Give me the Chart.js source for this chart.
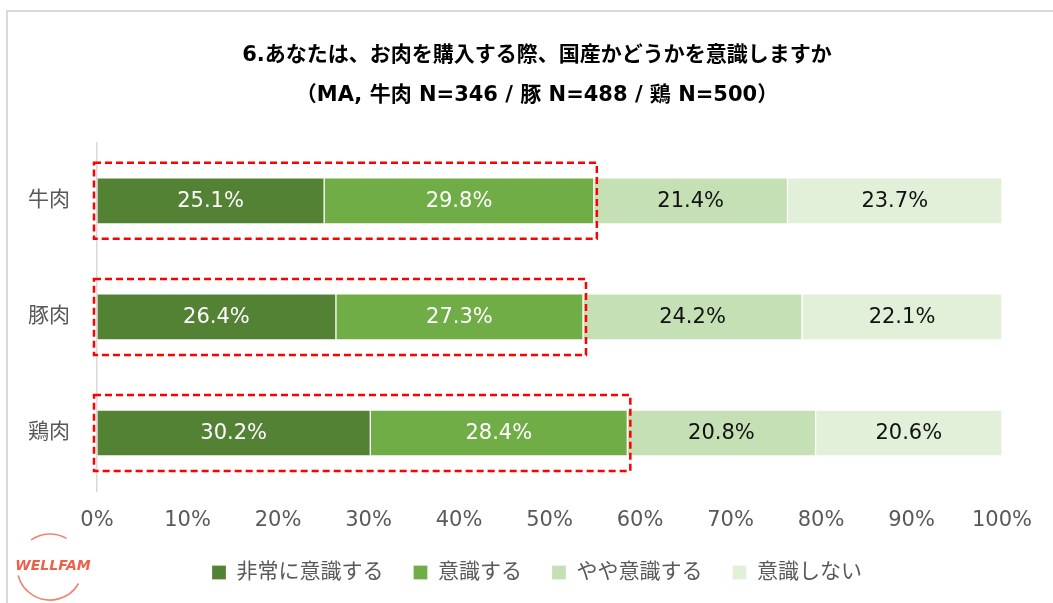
<!DOCTYPE html>
<html>
<head>
<meta charset="utf-8">
<script src="https://cdn.jsdelivr.net/npm/chart.js@4/dist/chart.umd.min.js"></script>
<style>
  html, body { margin: 0; padding: 0; background: #fff; }
  #wrap { width: 1053px; height: 603px; }
</style>
</head>
<body>
<div id="wrap"><canvas id="meatChart"></canvas></div>
<script>
const categories = ['牛肉', '豚肉', '鶏肉'];
const seriesNames = ['非常に意識する', '意識する', 'やや意識する', '意識しない'];
const veryConscious = [25.1, 26.4, 30.2];
const conscious = [29.8, 27.3, 28.4];
const somewhat = [21.4, 24.2, 20.8];
const notConscious = [23.7, 22.1, 20.6];
const xTicks = [0, 10, 20, 30, 40, 50, 60, 70, 80, 90, 100];
const titleLines = ['6.あなたは、お肉を購入する際、国産かどうかを意識しますか', '（MA, 牛肉 N=346 / 豚 N=488 / 鶏 N=500）'];

const colors = ['#548235', '#70AD47', '#C5E0B4', '#E2F0D9'];
const labelColors = ['#ffffff', '#ffffff', '#111111', '#111111'];
const FONT = '"DejaVu Sans", "Noto Sans CJK JP", sans-serif';

// outer frame + logo
const framePlugin = {
  id: 'frame',
  beforeDraw(chart) {
    const ctx = chart.ctx;
    ctx.save();
    ctx.strokeStyle = '#d9d9d9';
    ctx.lineWidth = 2;
    ctx.strokeRect(7, 11, 1060, 610);
    ctx.restore();
  },
  afterDraw(chart) {
    const ctx = chart.ctx;
    const deg = Math.PI / 180;
    ctx.save();
    ctx.strokeStyle = 'rgba(235, 90, 60, 0.75)';
    ctx.lineWidth = 1.6;
    ctx.beginPath();
    ctx.arc(50, 567, 33, 235 * deg, 300 * deg);
    ctx.stroke();
    ctx.beginPath();
    ctx.arc(50, 567, 33, 30 * deg, 165 * deg);
    ctx.stroke();
    ctx.fillStyle = 'rgba(235, 80, 55, 0.9)';
    ctx.font = 'italic bold 14px ' + FONT;
    ctx.textAlign = 'center';
    ctx.textBaseline = 'middle';
    ctx.fillText('WELLFAM', 53, 566);
    ctx.restore();
  }
};

// values in the middle of each segment
const valueLabels = {
  id: 'valueLabels',
  afterDatasetsDraw(chart) {
    const ctx = chart.ctx;
    ctx.save();
    ctx.font = '21px ' + FONT;
    ctx.textAlign = 'center';
    ctx.textBaseline = 'middle';
    chart.data.datasets.forEach((ds, di) => {
      chart.getDatasetMeta(di).data.forEach((bar, i) => {
        ctx.fillStyle = labelColors[di];
        ctx.fillText(ds.data[i].toFixed(1) + '%', (bar.x + bar.base) / 2, bar.y + 1);
      });
    });
    ctx.restore();
  }
};

// red dashed boxes round the first two segments
const dashBoxes = {
  id: 'dashBoxes',
  afterDatasetsDraw(chart) {
    const ctx = chart.ctx;
    const x0 = chart.scales.x.getPixelForValue(0);
    ctx.save();
    ctx.strokeStyle = '#FF0000';
    ctx.lineWidth = 2.5;
    ctx.setLineDash([7, 4]);
    chart.getDatasetMeta(1).data.forEach(bar => {
      const h = bar.height;
      ctx.strokeRect(x0 - 3, bar.y - h / 2 - 15, bar.x + 3 - (x0 - 3), h + 30);
    });
    ctx.restore();
  }
};

const datasets = [veryConscious, conscious, somewhat, notConscious].map((d, i) => ({
  label: seriesNames[i],
  data: d,
  backgroundColor: colors[i],
  borderColor: 'rgba(255,255,255,0.25)',
  borderWidth: 1,
  borderSkipped: false,
  barThickness: 46
}));

new Chart(document.getElementById('meatChart'), {
  type: 'bar',
  data: { labels: categories, datasets: datasets },
  plugins: [framePlugin, valueLabels, dashBoxes],
  options: {
    indexAxis: 'y',
    responsive: true,
    maintainAspectRatio: false,
    animation: false,
    layout: { padding: { top: 12, right: 3, bottom: 10, left: 24 } },
    scales: {
      x: {
        stacked: true,
        min: 0,
        max: 100,
        afterBuildTicks(scale) { scale.ticks = xTicks.map(v => ({ value: v })); },
        afterFit(scale) { scale.height = 41; },
        grid: { display: false, drawTicks: false },
        border: { display: false },
        ticks: {
          padding: 17,
          color: '#595959',
          font: { size: 21, family: FONT },
          callback: v => v + '%'
        }
      },
      y: {
        stacked: true,
        afterFit(scale) { scale.width = 73; },
        grid: { display: false, drawTicks: false },
        border: { display: true, color: '#d9d9d9', width: 1.5 },
        ticks: {
          padding: 27,
          color: '#595959',
          font: { size: 21, family: FONT }
        }
      },
      // empty right-hand axis, only to keep the plot's right edge at 100%
      yRight: {
        type: 'category',
        position: 'right',
        afterFit(scale) { scale.width = 48; },
        grid: { display: false, drawTicks: false },
        border: { display: false },
        ticks: { display: false }
      }
    },
    plugins: {
      title: {
        display: true,
        text: titleLines,
        color: '#000',
        font: { size: 21, weight: 'bold', family: FONT, lineHeight: 1.9 },
        padding: { top: 24, bottom: 27 }
      },
      legend: {
        position: 'bottom',
        labels: {
          color: '#595959',
          font: { size: 21, family: FONT },
          boxWidth: 14,
          boxHeight: 14,
          padding: 30
        }
      },
      tooltip: { enabled: false }
    }
  }
});
</script>
</body>
</html>
